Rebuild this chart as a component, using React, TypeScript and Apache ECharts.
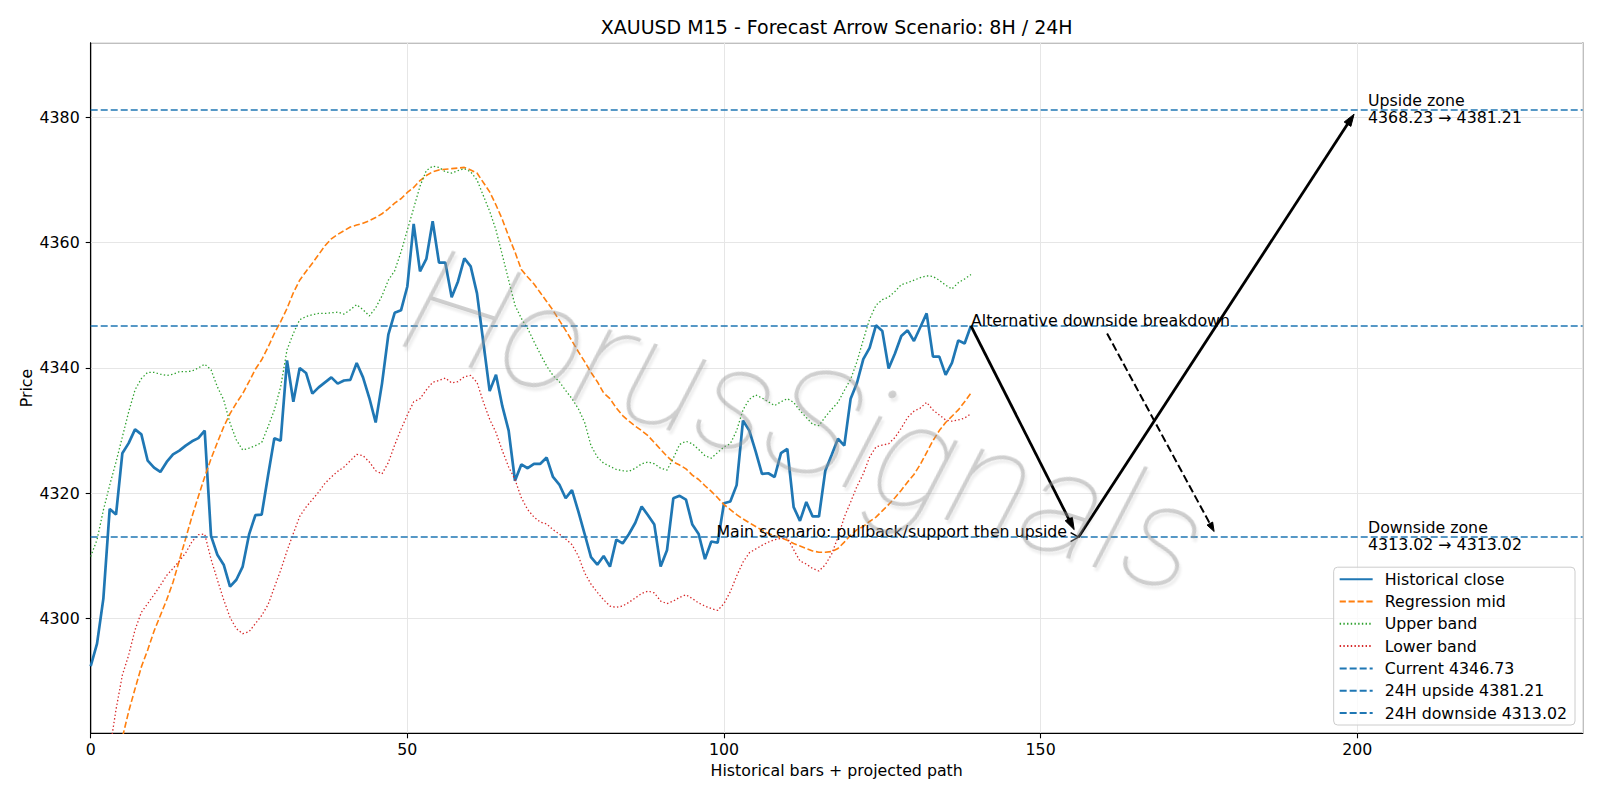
import React, { useEffect, useRef } from "react";
import * as echarts from "echarts";

const FONT = "DejaVu Sans, Liberation Sans, sans-serif";
const BASE_SIZE = 15.8;
const TITLE_SIZE = 19;

const chartTitle = "XAUUSD M15 - Forecast Arrow Scenario: 8H / 24H";
const xAxisTitle = "Historical bars + projected path";
const yAxisTitle = "Price";
const watermarkText = "HorusSignals";

// M15 closes, one per bar (bar index = position in the array)
const closePrices = [
  4292.4, 4296.0, 4303.2, 4317.5, 4316.6, 4326.4, 4328.0, 4330.2, 4329.4, 4325.2,
  4324.1, 4323.4, 4325.0, 4326.2, 4326.8, 4327.6, 4328.3, 4328.8, 4330.0, 4313.2,
  4310.2, 4308.6, 4305.1, 4306.2, 4308.3, 4313.4, 4316.5, 4316.6, 4322.8, 4328.8,
  4328.4, 4341.2, 4334.6, 4340.0, 4339.2, 4335.9, 4336.9, 4337.7, 4338.5, 4337.5,
  4338.0, 4338.1, 4340.8, 4338.5, 4335.2, 4331.3, 4337.5, 4345.3, 4348.8, 4349.2,
  4353.0, 4363.0, 4355.4, 4357.4, 4363.4, 4356.8, 4356.8, 4351.3, 4353.8, 4357.5,
  4356.2, 4351.9, 4344.1, 4336.3, 4338.9, 4333.9, 4330.0, 4322.0, 4324.6, 4324.0,
  4324.7, 4324.7, 4325.7, 4322.6, 4321.4, 4319.2, 4320.5, 4317.1, 4313.5, 4309.8,
  4308.6, 4310.0, 4308.3, 4312.6, 4312.0, 4313.5, 4315.3, 4317.9, 4316.5, 4315.0,
  4308.3, 4310.9, 4319.2, 4319.6, 4319.0, 4315.0, 4313.5, 4309.5, 4312.3, 4312.1,
  4318.4, 4318.7, 4321.3, 4331.6, 4330.0, 4326.7, 4323.1, 4323.2, 4322.6, 4326.4,
  4327.1, 4317.8, 4315.6, 4318.6, 4316.3, 4316.3, 4323.6, 4326.1, 4328.7, 4327.6,
  4335.1, 4337.6, 4341.4, 4343.2, 4346.8, 4345.9, 4339.9, 4342.3, 4345.1, 4346.0,
  4344.3, 4346.5, 4348.7, 4341.8, 4341.8, 4338.9, 4340.8, 4344.4, 4343.9, 4346.73,
];

const regressionMid = [
  4262.0, 4265.0, 4268.5, 4272.5, 4277.0, 4281.0, 4285.2, 4288.8, 4292.3, 4295.0,
  4298.0, 4300.5, 4303.0, 4305.8, 4309.3, 4312.8, 4316.3, 4319.5, 4322.6, 4325.5,
  4328.1, 4330.6, 4332.7, 4334.4, 4335.9, 4337.8, 4339.8, 4341.3, 4343.3, 4345.5,
  4347.4, 4349.5, 4352.0, 4354.0, 4355.4, 4356.7, 4358.1, 4359.5, 4360.6, 4361.3,
  4361.9, 4362.5, 4362.8, 4363.1, 4363.5, 4364.0, 4364.6, 4365.4, 4366.3, 4367.0,
  4368.0, 4368.8, 4369.9, 4370.7, 4371.3, 4371.6, 4371.7, 4371.8, 4371.9, 4372.0,
  4371.6, 4371.1, 4369.6, 4368.1, 4366.0, 4363.7, 4361.0, 4358.5, 4355.7, 4354.5,
  4353.4, 4352.0, 4350.6, 4349.2, 4347.6, 4346.0, 4344.3, 4342.6, 4341.0, 4339.3,
  4337.8, 4336.0, 4335.1, 4333.6, 4332.4, 4331.5, 4330.7, 4330.0, 4329.2, 4328.1,
  4327.0, 4325.9, 4325.0, 4324.5, 4323.9, 4322.9, 4322.2, 4321.2, 4320.3, 4319.3,
  4318.2, 4317.4, 4316.6, 4315.9, 4315.3, 4314.7, 4314.1, 4313.6, 4313.2, 4312.9,
  4312.5, 4312.0, 4311.6, 4311.2, 4310.8, 4310.6, 4310.6, 4310.7, 4311.2, 4312.2,
  4313.3, 4314.2, 4314.7, 4315.5, 4316.2, 4317.2, 4318.2, 4319.3, 4320.5, 4321.8,
  4323.0, 4324.6, 4326.5, 4328.4, 4330.0, 4331.3, 4332.3, 4333.3, 4334.6, 4336.0,
];

const upperBand = [
  4309.9, 4312.6, 4317.3, 4321.3, 4325.0, 4329.0, 4333.0, 4336.5, 4338.3, 4339.3,
  4339.3, 4339.0, 4338.8, 4339.0, 4339.4, 4339.4, 4339.5, 4340.0, 4340.6, 4339.7,
  4337.0, 4334.9, 4331.2, 4328.5, 4326.9, 4327.2, 4327.6, 4328.1, 4330.6, 4333.3,
  4337.0, 4342.9, 4345.5, 4347.7, 4348.2, 4348.5, 4348.7, 4348.7, 4348.8, 4348.9,
  4348.6, 4349.3, 4350.1, 4349.3, 4348.3, 4349.6, 4351.5, 4354.0, 4355.5, 4358.5,
  4362.0, 4365.5, 4369.0, 4371.5, 4372.2, 4372.0, 4371.3, 4371.1, 4371.5, 4371.8,
  4371.3, 4370.0, 4367.5, 4365.0, 4362.0, 4358.0, 4354.0, 4350.0, 4347.9, 4346.3,
  4344.2, 4342.2, 4340.3, 4338.8, 4337.8, 4336.4, 4335.1, 4333.5, 4331.3, 4327.6,
  4325.8, 4324.8, 4324.3, 4323.8, 4323.6, 4323.5, 4324.0, 4324.7, 4325.0, 4324.7,
  4324.0, 4323.7, 4325.6, 4327.8, 4328.3, 4327.9, 4327.0, 4326.0, 4325.6, 4326.5,
  4327.4, 4327.9, 4330.0, 4333.3, 4335.0, 4335.7, 4335.2, 4334.6, 4334.0, 4334.6,
  4335.1, 4334.5, 4333.2, 4332.1, 4331.0, 4330.8, 4332.2, 4333.4, 4334.5, 4336.4,
  4338.2, 4341.0, 4344.5, 4347.8, 4350.0, 4350.9, 4351.3, 4352.2, 4353.3, 4353.6,
  4354.0, 4354.4, 4354.7, 4354.6, 4354.0, 4353.2, 4352.6, 4353.6, 4354.2, 4354.9,
];

const lowerBand = [
  4266.0, 4270.0, 4274.0, 4279.0, 4285.5, 4291.0, 4294.2, 4298.2, 4301.0, 4302.4,
  4303.8, 4305.3, 4306.9, 4308.0, 4309.2, 4310.5, 4312.3, 4313.4, 4313.5, 4309.5,
  4306.2, 4303.0, 4300.2, 4298.4, 4297.6, 4297.9, 4299.2, 4300.5, 4302.2, 4305.0,
  4307.7, 4310.8, 4313.6, 4316.3, 4317.8, 4319.0, 4320.2, 4321.6, 4322.6, 4323.5,
  4324.2, 4325.2, 4326.2, 4326.0, 4325.0, 4323.6, 4323.1, 4324.9, 4327.7, 4330.2,
  4332.5, 4334.6, 4335.1, 4336.5, 4337.7, 4338.0, 4338.4, 4337.6, 4337.8, 4338.6,
  4338.8, 4337.7, 4334.6, 4331.8, 4329.7, 4326.8, 4324.2, 4322.2, 4319.3, 4317.4,
  4316.2, 4315.4, 4315.1, 4314.2, 4313.5, 4312.7, 4311.8, 4310.0, 4307.3, 4305.5,
  4304.2, 4303.0, 4302.0, 4301.8, 4302.0, 4302.6, 4303.3, 4304.0, 4304.4, 4304.1,
  4302.8, 4302.4, 4302.8, 4303.4, 4303.8, 4303.2, 4302.5, 4302.0, 4301.6, 4301.3,
  4302.4, 4304.3, 4306.8, 4309.0, 4310.5, 4311.1, 4311.7, 4312.2, 4312.6, 4312.8,
  4312.9, 4311.0, 4309.2, 4308.7, 4308.0, 4307.6, 4308.6, 4310.3, 4313.0, 4316.2,
  4318.6, 4321.1, 4323.1, 4325.8, 4327.4, 4327.7, 4327.9, 4328.9, 4330.4, 4332.1,
  4333.1, 4333.6, 4334.5, 4333.3, 4332.5, 4331.7, 4331.5, 4331.7, 4332.0, 4332.7,
];

// Key price levels
const currentPrice = 4346.73;
const upsideTarget = 4381.21;
const upsideZoneStart = 4368.23;
const downsideTarget = 4313.02;
const downsideZoneStart = 4313.02;

// Projected scenario legs: [x1, y1, x2, y2, kind, lineWidth]
// kind 0 = solid arrow, 1 = dashed arrow, 2 = small open head
const scenarioArrows = [
  [139, 4346.73, 155.3, 4314.2, 0, 2.8],
  [156, 4313.02, 199.5, 4380.5, 0, 2.8],
  [160.5, 4345.5, 177.4, 4313.9, 1, 2.0],
  [154.6, 4313.02, 156, 4313.02, 2, 1.4],
];

// Annotation anchors (bar position, price)
const altLabelAt = [139, currentPrice];
const mainLabelAt = [98.8, downsideTarget];
const zoneLabelX = 201.7;

const xRange = [0, 235.6];
const yRange = [4281.7, 4391.9];

const GRID = { left: 90.7, right: 17.3, top: 42.7, bottom: 66.7 };
const BLUE = "#1f77b4";

export default function App() {
  const ref = useRef<HTMLDivElement>(null);

  useEffect(() => {
    if (!ref.current) return;
    const chart = echarts.init(ref.current, null, { renderer: "svg", width: 1600, height: 800 });
    const toPairs = (vals: number[]) => vals.map((v, i) => [i, v]);

    const levelSeries = (name: string, value: number) => ({
      name,
      type: "line",
      data: [],
      symbol: "none",
      itemStyle: { color: BLUE },
      lineStyle: { color: BLUE, width: 1.5, type: [7, 3] },
      markLine: {
        silent: true,
        symbol: ["none", "none"],
        label: { show: false },
        lineStyle: { color: BLUE, width: 1.5, type: [7, 3] },
        data: [{ yAxis: value }],
      },
      z: 3,
    });

    const axisText = { color: "#000", fontSize: BASE_SIZE, fontFamily: FONT };

    chart.setOption({
      animation: false,
      backgroundColor: "#ffffff",
      textStyle: { fontFamily: FONT },
      grid: {
        ...GRID,
        show: true,
        borderColor: "#000",
        borderWidth: 1.1,
        backgroundColor: "transparent",
      },
      xAxis: {
        type: "value",
        min: xRange[0],
        max: xRange[1],
        interval: 50,
        name: xAxisTitle,
        nameLocation: "middle",
        nameGap: 29,
        nameTextStyle: axisText,
        axisLine: { show: true, onZero: false, lineStyle: { color: "#000", width: 1.1 } },
        axisTick: { show: true, length: 5, lineStyle: { color: "#000", width: 1.1 } },
        axisLabel: { ...axisText, margin: 8, showMaxLabel: false },
        splitLine: { show: true, lineStyle: { color: "#e6e6e6", width: 1 } },
      },
      yAxis: {
        type: "value",
        min: yRange[0],
        max: yRange[1],
        splitNumber: 5,
        name: yAxisTitle,
        nameLocation: "middle",
        nameGap: 56,
        nameMoveOverlap: false,
        nameTextStyle: axisText,
        axisLine: { show: true, onZero: false, lineStyle: { color: "#000", width: 1.1 } },
        axisTick: { show: true, length: 5, lineStyle: { color: "#000", width: 1.1 } },
        axisLabel: {
          ...axisText,
          margin: 11,
          showMinLabel: false,
          showMaxLabel: false,
          formatter: (v: number) => `${Math.round(v)}`,
        },
        splitLine: { show: true, lineStyle: { color: "#e6e6e6", width: 1 } },
      },
      legend: {
        data: [
          "Historical close",
          "Regression mid",
          "Upper band",
          "Lower band",
          `Current ${currentPrice.toFixed(2)}`,
          `24H upside ${upsideTarget.toFixed(2)}`,
          `24H downside ${downsideTarget.toFixed(2)}`,
        ],
        orient: "vertical",
        right: 25,
        bottom: 75,
        itemWidth: 33,
        itemHeight: 16,
        itemGap: 6.3,
        padding: [4, 8, 4, 5],
        backgroundColor: "rgba(255,255,255,0.8)",
        borderColor: "#cccccc",
        borderWidth: 1,
        borderRadius: 4,
        selectedMode: false,
        itemStyle: { opacity: 0 },
        textStyle: { color: "#000", fontSize: BASE_SIZE, fontFamily: FONT, padding: [0, 0, 0, 7] },
      },
      series: [
        {
          name: "Historical close",
          type: "line",
          data: toPairs(closePrices),
          symbol: "none",
          itemStyle: { color: BLUE },
          lineStyle: { color: BLUE, width: 2.7 },
          z: 2,
        },
        {
          name: "Regression mid",
          type: "line",
          data: toPairs(regressionMid),
          symbol: "none",
          itemStyle: { color: "#ff7f0e" },
          lineStyle: { color: "#ff7f0e", width: 1.6, type: [6.2, 2.7] },
          z: 2,
        },
        {
          name: "Upper band",
          type: "line",
          data: toPairs(upperBand),
          symbol: "none",
          itemStyle: { color: "#2ca02c" },
          lineStyle: { color: "#2ca02c", width: 1.3, type: [1.4, 2.3] },
          z: 2,
        },
        {
          name: "Lower band",
          type: "line",
          data: toPairs(lowerBand),
          symbol: "none",
          itemStyle: { color: "#d62728" },
          lineStyle: { color: "#d62728", width: 1.3, type: [1.4, 2.3] },
          z: 2,
        },
        levelSeries(`Current ${currentPrice.toFixed(2)}`, currentPrice),
        levelSeries(`24H upside ${upsideTarget.toFixed(2)}`, upsideTarget),
        levelSeries(`24H downside ${downsideTarget.toFixed(2)}`, downsideTarget),
        {
          name: "Scenario arrows",
          type: "custom",
          coordinateSystem: "cartesian2d",
          data: scenarioArrows,
          encode: { x: [0, 2], y: [1, 3] },
          silent: true,
          clip: false,
          z: 5,
          renderItem: (_params: any, api: any) => {
            const a = api.coord([api.value(0), api.value(1)]);
            const b = api.coord([api.value(2), api.value(3)]);
            const kind = api.value(4);
            const lw = api.value(5);
            const dx = b[0] - a[0];
            const dy = b[1] - a[1];
            const len = Math.hypot(dx, dy) || 1;
            const ux = dx / len;
            const uy = dy / len;
            const headLen = kind === 0 ? 12 : kind === 1 ? 9 : 8;
            const headHalf = kind === 0 ? 4 : kind === 1 ? 3.2 : 4.5;
            const base = [b[0] - ux * headLen, b[1] - uy * headLen];
            const left = [base[0] - uy * headHalf, base[1] + ux * headHalf];
            const right = [base[0] + uy * headHalf, base[1] - ux * headHalf];
            if (kind === 2) {
              return {
                type: "polyline",
                shape: { points: [left, b, right] },
                style: { stroke: "#000", lineWidth: lw, fill: "none" },
              };
            }
            return {
              type: "group",
              children: [
                {
                  type: "line",
                  shape: { x1: a[0], y1: a[1], x2: base[0] + ux, y2: base[1] + uy },
                  style: {
                    stroke: "#000",
                    lineWidth: lw,
                    lineDash: kind === 1 ? [8, 3.5] : null,
                    fill: "none",
                  },
                },
                {
                  type: "polygon",
                  shape: { points: [b, left, right] },
                  style: { fill: "#000", stroke: "#000", lineWidth: 1 },
                },
              ],
            };
          },
        },
      ],
    });

    const px = (x: number, y: number) =>
      chart.convertToPixel({ gridIndex: 0 }, [x, y]) as number[];

    const alt = px(altLabelAt[0], altLabelAt[1]);
    const main = px(mainLabelAt[0], mainLabelAt[1]);
    const up = px(zoneLabelX, upsideTarget);
    const down = px(zoneLabelX, downsideTarget);
    const plotLeft = GRID.left;
    const plotRight = 1600 - GRID.right;
    const plotTop = GRID.top;
    const plotBottom = 800 - GRID.bottom;

    const label = (x: number, y: number, text: string, extra: any = {}) => ({
      type: "text",
      x,
      y,
      z: 20,
      silent: true,
      style: {
        text,
        fill: "#000",
        fontSize: BASE_SIZE,
        fontFamily: FONT,
        align: "left",
        verticalAlign: "middle",
        lineHeight: 17.3,
        ...extra,
      },
    });

    chart.setOption({
      graphic: [
        label((plotLeft + plotRight) / 2, 26.5, chartTitle, { fontSize: TITLE_SIZE, align: "center" }),
        label(alt[0], alt[1] - 5.5, "Alternative downside breakdown"),
        label(main[0], main[1] - 5.5, "Main scenario: pullback/support then upside"),
        label(up[0], up[1] - 0.8, `Upside zone\n${upsideZoneStart.toFixed(2)} → ${upsideTarget.toFixed(2)}`),
        label(down[0], down[1] - 1, `Downside zone\n${downsideZoneStart.toFixed(2)} → ${downsideTarget.toFixed(2)}`),
        {
          type: "text",
          x: plotLeft + (plotRight - plotLeft) * 0.479,
          y: plotTop + (plotBottom - plotTop) * 0.548,
          rotation: -0.31,
          z: 30,
          silent: true,
          style: {
            text: watermarkText,
            fontSize: 148,
            fontFamily: "Roboto, DejaVu Sans, sans-serif",
            fontWeight: 100,
            fontStyle: "italic",
            fill: "rgba(150,150,150,0.45)",
            align: "center",
            verticalAlign: "middle",
            textShadowColor: "rgba(0,0,0,0.15)",
            textShadowOffsetX: 3,
            textShadowOffsetY: 3,
            textShadowBlur: 2,
          },
        },
      ],
    });

    return () => chart.dispose();
  }, []);

  return (
    <div
      ref={ref}
      style={{ position: "fixed", left: 0, top: 0, width: 1600, height: 800, background: "#fff" }}
    />
  );
}
